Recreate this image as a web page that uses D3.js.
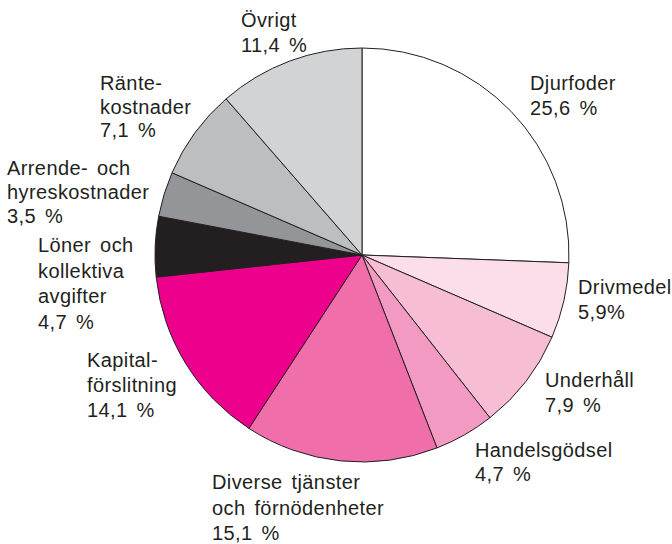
<!DOCTYPE html>
<html>
<head>
<meta charset="utf-8">
<script src="https://cdn.jsdelivr.net/npm/d3@7"></script>
<style>
  body { margin: 0; background: #fff; }
</style>
</head>
<body>
<div id="chart"></div>
<script>
// slice data, clockwise from 12 o'clock
var categories = ["Djurfoder", "Drivmedel", "Underhåll", "Handelsgödsel", "Diverse tjänster och förnödenheter",
                  "Kapitalförslitning", "Löner och kollektiva avgifter", "Arrende- och hyreskostnader",
                  "Räntekostnader", "Övrigt"];
var values = [25.6, 5.9, 7.9, 4.7, 15.1, 14.1, 4.7, 3.5, 7.1, 11.4];
var colors = ["#ffffff", "#fcdeea", "#f7bdd5", "#f39ac2", "#f06faa", "#ec008c", "#231f20", "#939598", "#bcbec0", "#d1d3d4"];

// label lines as printed
var labelLines = [
  ["Djurfoder", "25,6 %"],
  ["Drivmedel", "5,9%"],
  ["Underhåll", "7,9 %"],
  ["Handelsgödsel", "4,7 %"],
  ["Diverse tjänster", "och förnödenheter", "15,1 %"],
  ["Kapital-", "förslitning", "14,1 %"],
  ["Löner och", "kollektiva", "avgifter", "4,7 %"],
  ["Arrende- och", "hyreskostnader", "3,5 %"],
  ["Ränte-", "kostnader", "7,1 %"],
  ["Övrigt", "11,4 %"]
];

var width = 672, height = 544,
    cx = 362, cy = 255, radius = 207;

// label anchor (left x, first baseline) and line height
var labelPos = [
  [530, 90], [578, 294], [545, 387], [475, 457], [212, 489],
  [87, 367], [38, 252], [7, 175], [100, 90], [241, 27]
];
var lineH = [25, 25, 25, 24, 25.5, 25, 25.5, 24, 23.5, 24.5];

var svg = d3.select("#chart")
  .append("svg")
    .attr("width", width)
    .attr("height", height);

var pie = d3.pie().sort(null).value(function(d) { return d; });
var arc = d3.arc().innerRadius(0).outerRadius(radius);

var g = svg.append("g")
    .attr("transform", "translate(" + cx + "," + cy + ")");

g.selectAll("path")
  .data(pie(values))
  .enter()
  .append("path")
    .attr("d", arc)
    .attr("fill", function(d, i) { return colors[i]; })
    .attr("stroke", "#231f20")
    .attr("stroke-width", 1)
    .attr("stroke-linejoin", "round");

// labels
var labels = svg.selectAll("text.lbl")
  .data(labelLines)
  .enter()
  .append("text")
    .attr("class", "lbl")
    .attr("x", function(d, i) { return labelPos[i][0]; })
    .attr("y", function(d, i) { return labelPos[i][1]; })
    .attr("font-family", "Arial, 'Liberation Sans', sans-serif")
    .attr("font-size", "20px")
    .attr("letter-spacing", "0.4px")
    .attr("word-spacing", "3px")
    .attr("fill", "#231f20");

labels.each(function(lines, i) {
  var t = d3.select(this);
  lines.forEach(function(line, j) {
    t.append("tspan")
      .attr("x", labelPos[i][0])
      .attr("y", labelPos[i][1] + j * lineH[i])
      .text(line);
  });
});
</script>
</body>
</html>
